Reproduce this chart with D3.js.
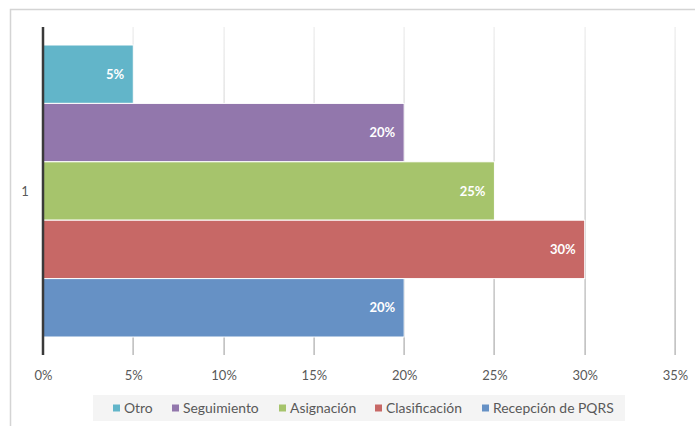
<!DOCTYPE html>
<html>
<head>
<meta charset="utf-8">
<script src="https://cdn.jsdelivr.net/npm/d3@7"></script>
<style>
  html, body { margin: 0; padding: 0; background: #fff; }
  svg { display: block; font-family: "Lato", "Open Sans", sans-serif; }
</style>
</head>
<body>
<svg id="chart" width="695" height="426"></svg>
<script>
// Share of PQRS handling steps (single group "1")
const categories = ["1"];
const seriesNames = ["Otro", "Seguimiento", "Asignación", "Clasificación", "Recepción de PQRS"];
const seriesValues = [0.05, 0.20, 0.25, 0.30, 0.20];
const seriesColors = ["#62b5c9", "#9277ac", "#a6c46c", "#c76866", "#6691c5"];
const xTicks = [0, 0.05, 0.10, 0.15, 0.20, 0.25, 0.30, 0.35];

const svg = d3.select("#chart");

// outer frame (top and left edges visible)
svg.append("path")
  .attr("d", "M10.5,426 L10.5,9.5 L695,9.5")
  .attr("fill", "none").attr("stroke", "#d4d4d4").attr("stroke-width", 1.5);

const x = d3.scaleLinear().domain([0, 0.35]).range([43, 675]);
const yCat = d3.scaleBand().domain(categories).range([45, 337]);
const ySer = d3.scaleBand().domain(seriesNames).range([0, yCat.bandwidth()]);

// vertical gridlines fading toward the top
const defs = svg.append("defs");
const grad = defs.append("linearGradient")
  .attr("id", "gridFade").attr("gradientUnits", "userSpaceOnUse")
  .attr("x1", 0).attr("y1", 27).attr("x2", 0).attr("y2", 355);
grad.append("stop").attr("offset", "0%").attr("stop-color", "#ececec");
grad.append("stop").attr("offset", "100%").attr("stop-color", "#a9a9a9");

svg.append("g").selectAll("rect.grid")
  .data(xTicks.slice(1))
  .join("rect")
  .attr("x", d => Math.round(x(d)) - 0.5)
  .attr("y", 27)
  .attr("width", 1.2)
  .attr("height", 328)
  .attr("fill", "url(#gridFade)");

// bars
const g = svg.append("g");
g.selectAll("rect.bar")
  .data(seriesNames.map((n, i) => ({ name: n, value: seriesValues[i], color: seriesColors[i] })))
  .join("rect")
  .attr("class", "bar")
  .attr("x", x(0))
  .attr("y", d => yCat("1") + ySer(d.name))
  .attr("width", d => x(d.value) - x(0))
  .attr("height", ySer.bandwidth())
  .attr("fill", d => d.color)
  .attr("stroke", "#fff").attr("stroke-width", 1);

// value labels
g.selectAll("text.val")
  .data(seriesNames.map((n, i) => ({ name: n, value: seriesValues[i] })))
  .join("text")
  .attr("x", d => x(d.value) - 9)
  .attr("y", d => yCat("1") + ySer(d.name) + ySer.bandwidth() / 2)
  .attr("dy", "0.35em")
  .attr("text-anchor", "end")
  .attr("fill", "#fff")
  .attr("font-weight", "bold")
  .attr("font-size", 13)
  .text(d => d3.format(".0%")(d.value));

// category axis line
svg.append("line")
  .attr("x1", x(0)).attr("x2", x(0))
  .attr("y1", 27).attr("y2", 355)
  .attr("stroke", "#3a3a3a").attr("stroke-width", 2.5);

svg.append("text")
  .attr("x", 25).attr("y", yCat("1") + yCat.bandwidth() / 2)
  .attr("dy", "0.35em").attr("text-anchor", "middle")
  .attr("fill", "#595959").attr("font-size", 13)
  .text(categories[0]);

// x axis labels
const xAxis = d3.axisBottom(x).tickValues(xTicks).tickFormat(d3.format(".0%")).tickSize(0).tickPadding(0);
const ax = svg.append("g").attr("transform", "translate(0,375)").call(xAxis);
ax.select(".domain").remove();
ax.selectAll("text")
  .attr("dy", "0.35em")
  .attr("fill", "#595959")
  .attr("font-size", 13)
  .attr("font-family", "Lato, 'Open Sans', sans-serif");

// legend
svg.append("rect")
  .attr("x", 93).attr("y", 395).attr("width", 532).attr("height", 26)
  .attr("fill", "#f4f4f4");

const legendX = [113, 172, 279, 375, 482];
const lg = svg.append("g").selectAll("g")
  .data(seriesNames.map((n, i) => ({ name: n, color: seriesColors[i], lx: legendX[i] })))
  .join("g")
  .attr("transform", d => `translate(${d.lx},408)`);
lg.append("rect")
  .attr("x", 0).attr("y", -3.5).attr("width", 7).attr("height", 7)
  .attr("fill", d => d.color);
lg.append("text")
  .attr("x", 11).attr("dy", "0.35em")
  .attr("fill", "#595959").attr("font-size", 13.9)
  .text(d => d.name);
</script>
</body>
</html>
